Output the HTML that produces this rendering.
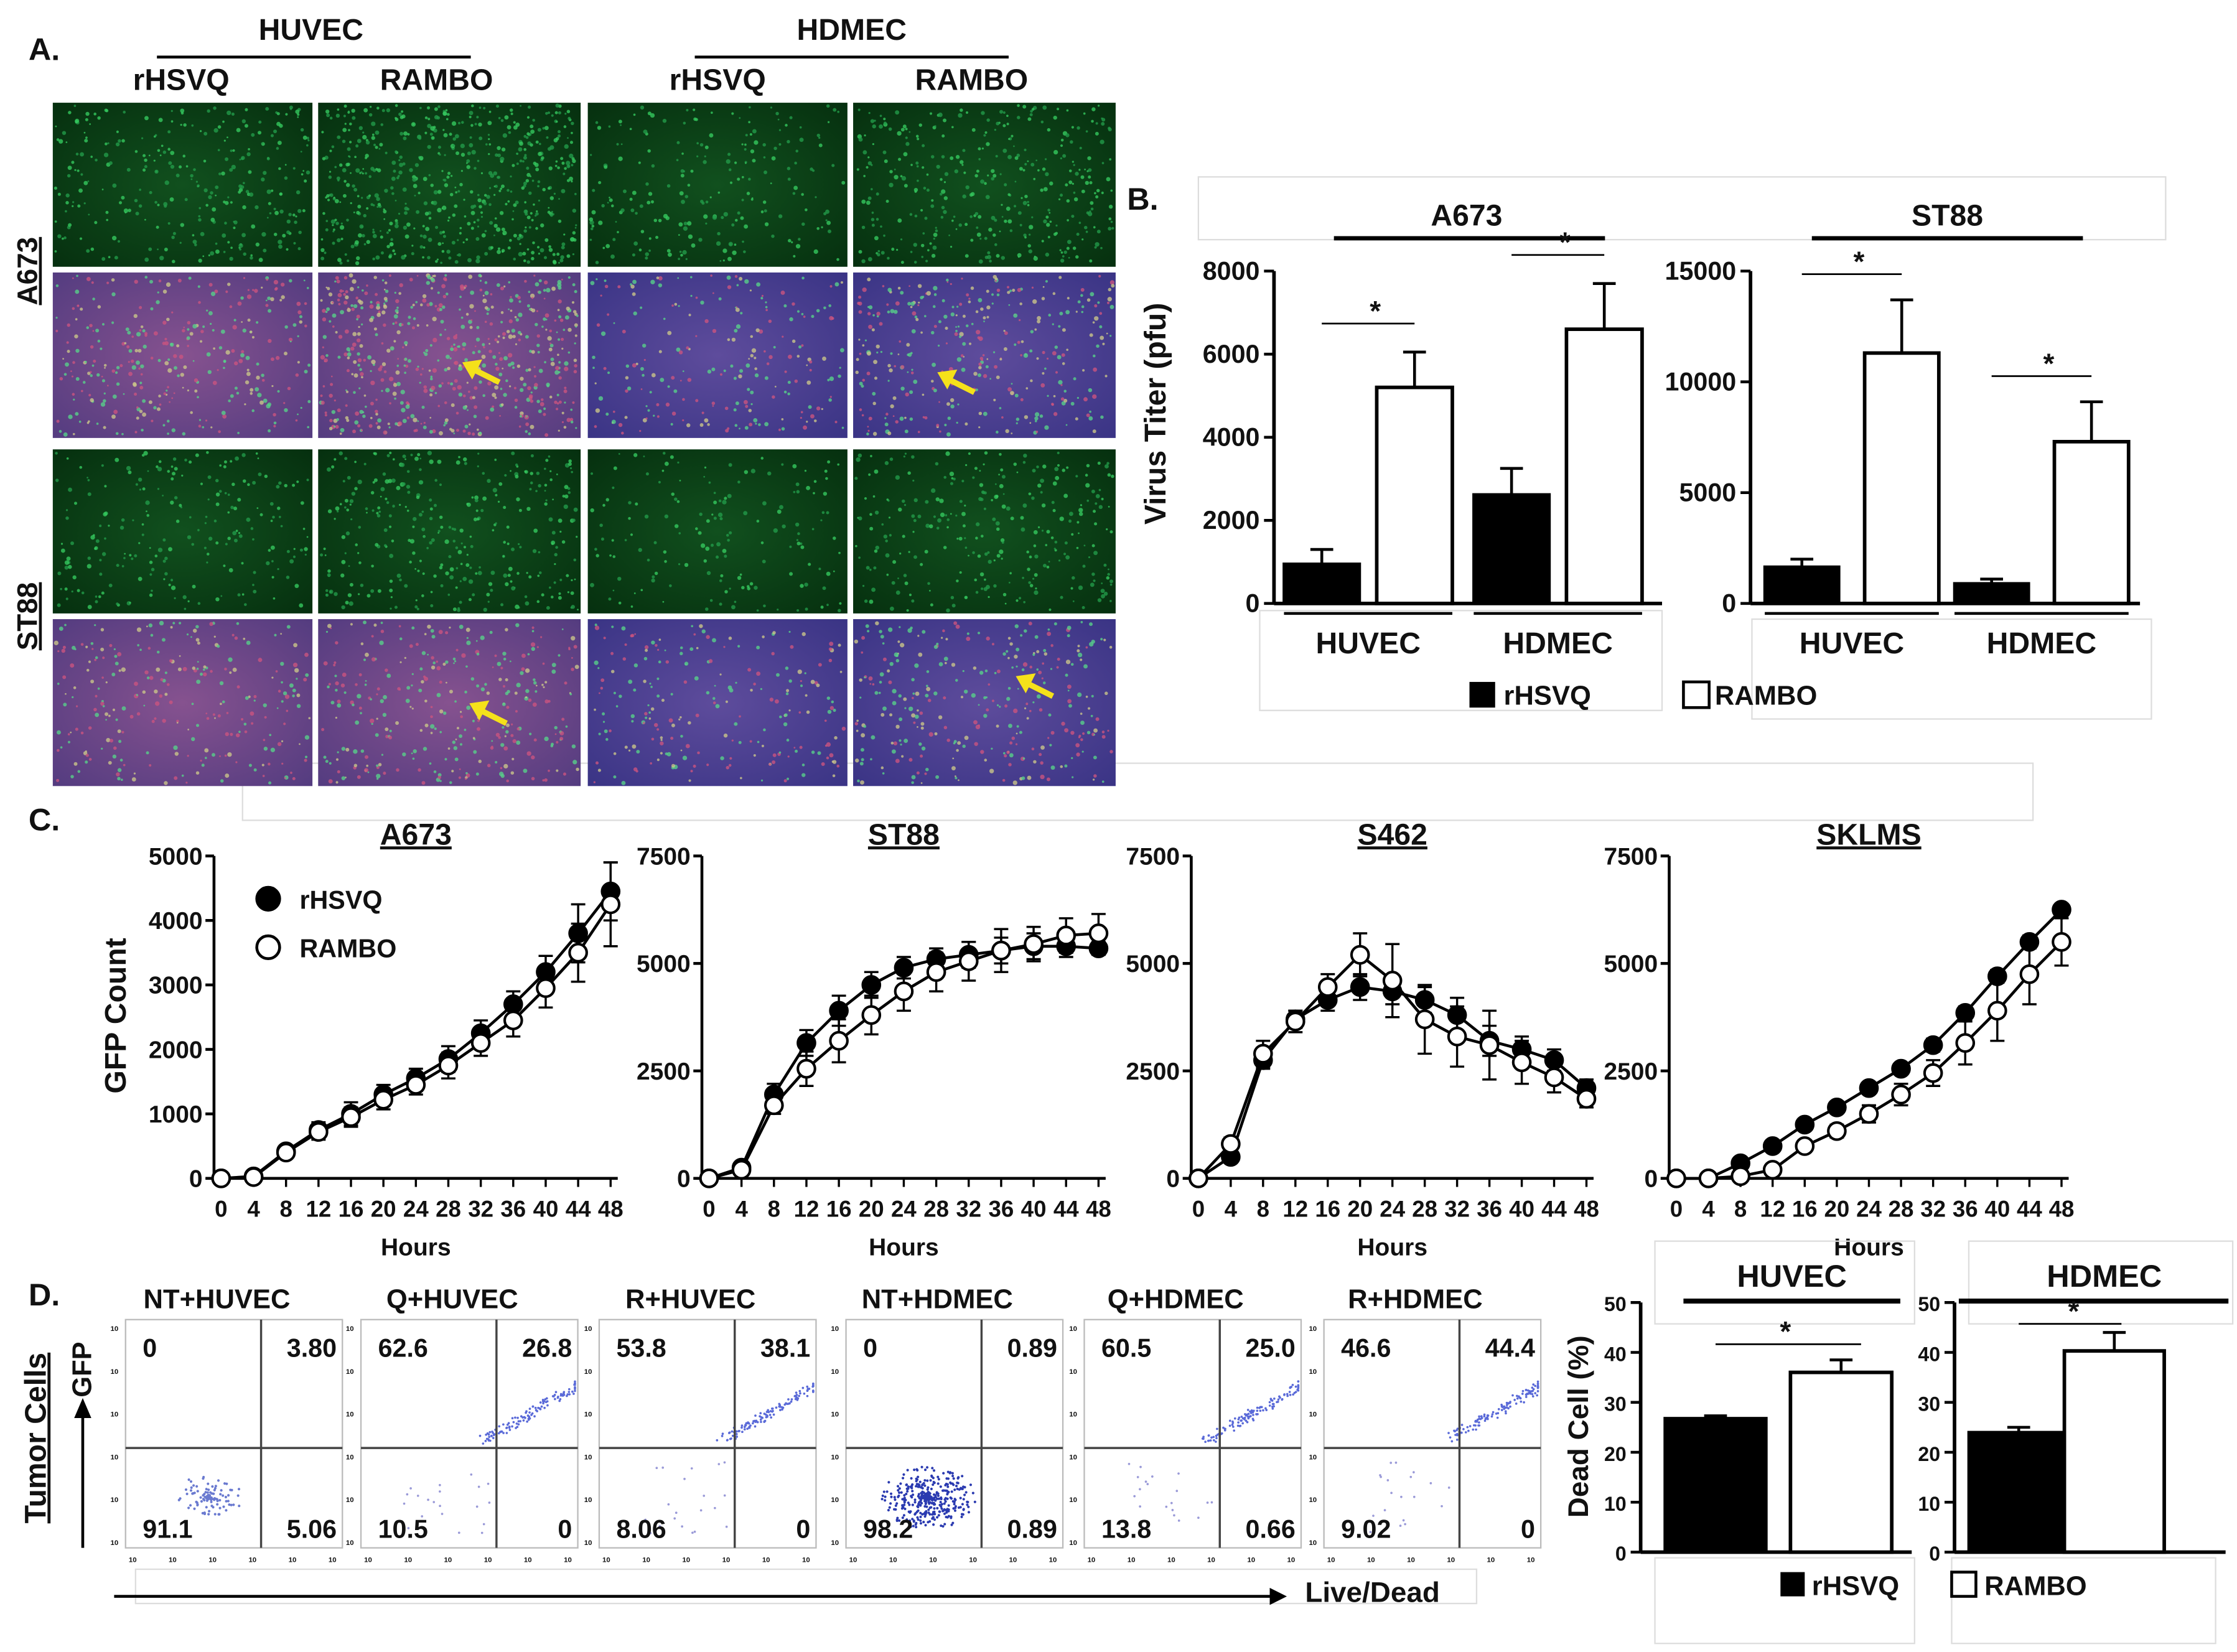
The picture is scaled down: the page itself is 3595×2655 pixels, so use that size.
<!DOCTYPE html>
<html><head><meta charset="utf-8"><style>
html,body{margin:0;padding:0;background:#fff}
svg{display:block}
text{font-family:"Liberation Sans",Arial,sans-serif;font-weight:bold;fill:#111}
</style></head><body>
<svg id="fig" width="3595" height="2655" viewBox="0 0 1568 1158" xmlns="http://www.w3.org/2000/svg">
<defs>
<radialGradient id="gGreen" cx="50%" cy="50%" r="70%"><stop offset="0" stop-color="#11501e"/><stop offset="1" stop-color="#06300f"/></radialGradient>
<radialGradient id="gPurple" cx="50%" cy="50%" r="70%"><stop offset="0" stop-color="#86528f"/><stop offset="1" stop-color="#543c80"/></radialGradient>
<radialGradient id="gBlue" cx="50%" cy="50%" r="70%"><stop offset="0" stop-color="#5e4c9c"/><stop offset="1" stop-color="#3a3485"/></radialGradient>
</defs>
</svg>
<script>
// ---- Panel B data ----
const bGroups = ['HUVEC','HDMEC'];
const bA673Q = [950, 2620];
const bA673R = [5200, 6600];
const bA673Qerr = [1300, 3250];
const bA673Rerr = [6050, 7700];
const bST88Q = [1650, 900];
const bST88R = [11300, 7300];
const bST88Qerr = [2000, 1100];
const bST88Rerr = [13700, 9100];
const bA673Ticks = [0,2000,4000,6000,8000];
const bST88Ticks = [0,5000,10000,15000];
// ---- Panel C data ----
const hours = [0,4,8,12,16,20,24,28,32,36,40,44,48];
const cA673Q = [0,30,420,750,1000,1300,1550,1850,2250,2700,3200,3800,4450];
const cA673R = [0,20,400,720,950,1220,1450,1750,2100,2450,2950,3500,4250];
const cA673Qe = [0,20,60,120,180,150,150,200,200,200,250,450,450];
const cA673Re = [0,20,60,120,150,150,150,200,200,250,300,450,650];
const cST88Q = [0,250,1950,3150,3900,4500,4900,5100,5200,5300,5400,5400,5350];
const cST88R = [0,200,1700,2550,3200,3800,4350,4800,5050,5300,5450,5650,5700];
const cST88Qe = [0,100,250,300,350,300,250,250,300,300,300,250,150];
const cST88Re = [0,100,200,400,500,450,450,450,450,500,400,400,450];
const cS462Q = [0,500,2750,3700,4150,4450,4350,4150,3800,3200,3000,2750,2100];
const cS462R = [0,800,2900,3650,4450,5200,4600,3700,3300,3100,2700,2350,1850];
const cS462Qe = [0,100,200,200,250,300,300,300,400,350,300,250,200];
const cS462Re = [0,150,300,250,300,500,850,800,700,800,500,350,200];
const cSKQ = [0,0,350,750,1250,1650,2100,2550,3100,3850,4700,5500,6250];
const cSKR = [0,0,50,200,750,1100,1500,1950,2450,3150,3900,4750,5500];
const cSKQe = [0,0,50,50,80,100,100,100,150,150,150,150,100];
const cSKRe = [0,0,50,100,100,150,200,250,300,500,700,700,550];
const cXTicks = hours;
const c5000Ticks = [0,1000,2000,3000,4000,5000];
const c7500Ticks = [0,2500,5000,7500];
// ---- Panel D data ----
const flowTitles = ['NT+HUVEC','Q+HUVEC','R+HUVEC','NT+HDMEC','Q+HDMEC','R+HDMEC'];
const flowTL = ['0','62.6','53.8','0','60.5','46.6'];
const flowTR = ['3.80','26.8','38.1','0.89','25.0','44.4'];
const flowBL = ['91.1','10.5','8.06','98.2','13.8','9.02'];
const flowBR = ['5.06','0','0','0.89','0.66','0'];
const dHUVEC = [26.8, 36.0];
const dHUVECerr = [27.3, 38.5];
const dHDMEC = [24.0, 40.3];
const dHDMECerr = [25.0, 44.0];
const dTicks = [0,10,20,30,40,50];

const svg = document.getElementById('fig');
const NS = 'http://www.w3.org/2000/svg';
function mk(tag, attrs, name, parent){
  const el = document.createElementNS(NS, tag);
  for (const k in attrs) el.setAttribute(k, attrs[k]);
  
  
  (parent||svg).appendChild(el);
  return el;
}
function txt(x,y,s,size,name,anchor,extra){
  const a = Object.assign({x:x,y:y,'font-size':size,'text-anchor':anchor||'middle'}, extra||{});
  const t = mk('text',a,name);
  t.textContent = s;
  return t;
}
function line(x1,y1,x2,y2,name,w,col){
  return mk('line',{x1:x1,y1:y1,x2:x2,y2:y2,stroke:col||'#000','stroke-width':w||2},name);
}
function rect(x,y,w,h,name,fill,stroke,sw){
  return mk('rect',{x:x,y:y,width:w,height:h,fill:fill||'none',stroke:stroke||'none','stroke-width':sw||0},name);
}
let seed = 7;
function rnd(){ seed = (seed*16807)%2147483647; return seed/2147483647; }

// background boxes first
rect(170,535,1255,40,'panel-c-title-box','none','#ddd',1);

// ================= Panel A =================
txt(20,42,'A.',22,'panel-a-label','start');
txt(218,28,'HUVEC',21,'huvec-header');
line(110,40,330,40,'huvec-header-line',2);
txt(597,28,'HDMEC',21,'hdmec-header');
line(487,40,707,40,'hdmec-header-line',2);
txt(127,63,'rHSVQ',21,'col-rhsvq-huvec');
txt(306,63,'RAMBO',21,'col-rambo-huvec');
txt(503,63,'rHSVQ',21,'col-rhsvq-hdmec');
txt(681,63,'RAMBO',21,'col-rambo-hdmec');
const ra = txt(26,190,'A673',20,'row-label-a673');
ra.setAttribute('transform','rotate(-90 26 190)');
ra.setAttribute('text-decoration','underline');
const rs = txt(26,432,'ST88',20,'row-label-st88');
rs.setAttribute('transform','rotate(-90 26 432)');
rs.setAttribute('text-decoration','underline');
const colsX = [[37,219],[223,407],[412,594],[598,782]];
const rowsY = [[72,187,'g'],[191,307,'p'],[315,430,'g'],[434,551,'p']];
const densities = [[300,600,220,360],[320,600,220,340],[220,330,160,280],[260,320,220,300]];
rowsY.forEach((r,ri)=>{
  colsX.forEach((c,ci)=>{
    const w=c[1]-c[0], h=r[1]-r[0];
    const fill = r[2]==='g' ? 'url(#gGreen)' : (ci>=2 ? 'url(#gBlue)' : 'url(#gPurple)');
    rect(c[0],r[0],w,h,'micrograph-r'+ri+'-c'+ci,fill);
    const n = densities[ri][ci];
    const g = mk('g',{},'micrograph-cells-r'+ri+'-c'+ci);
    for(let i=0;i<n;i++){
      const x=c[0]+2+rnd()*(w-4), y=r[0]+2+rnd()*(h-4);
      let col;
      if(r[2]==='g'){ col = rnd()<0.5?'#35c85e':'#229a48'; }
      else { const q=rnd(); col = q<0.4?'#58d08a':(q<0.75?'#c95480':'#c9c48a'); }
      mk('circle',{cx:x.toFixed(1),cy:y.toFixed(1),r:(0.6+rnd()*1.0).toFixed(1),fill:col,opacity:0.8},'cell-dot',g);
    }
  });
});
// yellow arrows
[[330,258],[663,265],[335,497],[718,478]].forEach((p,i)=>{
  const g=mk('g',{},'yellow-arrow-'+i);
  mk('line',{x1:p[0]+20,y1:p[1]+10,x2:p[0],y2:p[1],stroke:'#f5e11a','stroke-width':4},'arrow-shaft',g);
  mk('polygon',{points:(p[0]-6)+','+(p[1]-4)+' '+(p[0]+8)+','+(p[1]-6)+' '+(p[0]+1)+','+(p[1]+8),fill:'#f5e11a'},'arrow-head',g);
});

// ================= Panel B =================
txt(790,147,'B.',22,'panel-b-label','start');
rect(840,124,678,44,'panel-b-title-box','none','#ddd',1);
txt(1028,158,'A673',21,'b-title-a673');
line(935,167,1125,167,'b-title-a673-line',3);
txt(1365,158,'ST88',21,'b-title-st88');
line(1270,167,1460,167,'b-title-st88-line',3);
rect(883,428,282,70,'b-legend-box-left','none','#ddd',1);
rect(1228,434,280,70,'b-legend-box-right','none','#ddd',1);
const yt = txt(817,290,'Virus Titer (pfu)',21,'b-y-axis-title');
yt.setAttribute('transform','rotate(-90 817 290)');

function barChart(o){
  const ys = v => o.y0 - v/o.ymax*(o.y0-o.ytop);
  line(o.ax,o.ytop,o.ax,o.y0,o.id+'-y-axis',2.5);
  line(o.ax,o.y0,o.axEnd,o.y0,o.id+'-x-axis',2.5);
  o.ticks.forEach(t=>{
    line(o.ax-7,ys(t),o.ax,ys(t),o.id+'-y-tick',2);
    txt(o.ax-10,ys(t)+6,String(t),o.fs,o.id+'-y-tick-label','end');
  });
  o.groups.forEach((gname,i)=>{
    const xq=o.gx[i], xr=xq+o.off, w=o.bw;
    const yqe=ys(o.qerr[i]), yre=ys(o.rerr[i]);
    line(xq+w/2,yqe,xq+w/2,ys(o.q[i]),o.id+'-err-q-'+gname,2);
    line(xq+w/2-8,yqe,xq+w/2+8,yqe,o.id+'-err-cap-q-'+gname,2);
    line(xr+w/2,yre,xr+w/2,ys(o.r[i]),o.id+'-err-r-'+gname,2);
    line(xr+w/2-8,yre,xr+w/2+8,yre,o.id+'-err-cap-r-'+gname,2);
    rect(xq,ys(o.q[i]),w,o.y0-ys(o.q[i]),o.id+'-bar-rhsvq-'+gname,'#000','#000',2);
    rect(xr,ys(o.r[i]),w,o.y0-ys(o.r[i]),o.id+'-bar-rambo-'+gname,'#fff','#000',2.5);
    if(o.gl){
      line(xq,o.y0+7,xr+w,o.y0+7,o.id+'-group-bracket-'+gname,2);
      txt((xq+xr+w)/2,o.y0+35,gname,21,o.id+'-group-label-'+gname);
    }
    const sy = Math.min(yqe,yre) - o.sigGap;
    line(xq+w/2,sy,xr+w/2+o.sigExt,sy,o.id+'-sig-line-'+gname,1.2);
    txt((xq+xr+w)/2+5,sy-2,'*',20,o.id+'-sig-star-'+gname);
  });
}
barChart({id:'b-a673',ax:893,axEnd:1165,y0:423,ytop:190,ymax:8000,ticks:bA673Ticks,groups:bGroups,gx:[900,1033],off:65,bw:53,q:bA673Q,r:bA673R,qerr:bA673Qerr,rerr:bA673Rerr,fs:18,gl:true,sigGap:20,sigExt:0});
barChart({id:'b-st88',ax:1227,axEnd:1500,y0:423,ytop:190,ymax:15000,ticks:bST88Ticks,groups:bGroups,gx:[1237,1370],off:70,bw:52,q:bST88Q,r:bST88R,qerr:bST88Qerr,rerr:bST88Rerr,fs:18,gl:true,sigGap:18,sigExt:0});
rect(1030,478,18,18,'legend-swatch-rhsvq','#000');
txt(1054,494,'rHSVQ',19,'legend-label-rhsvq','start');
rect(1180,478,18,18,'legend-swatch-rambo','#fff','#000',2);
txt(1202,494,'RAMBO',19,'legend-label-rambo','start');

// ================= Panel C =================
txt(20,582,'C.',22,'panel-c-label','start');
const gy = txt(88,712,'GFP Count',21,'c-y-axis-title');
gy.setAttribute('transform','rotate(-90 88 712)');
function lineChart(o){
  const xs = h => o.x0 + h/48*(o.x48-o.x0);
  const ys = v => 826 - v/o.ymax*(826-600);
  line(o.ax,600,o.ax,826,o.id+'-y-axis',2);
  line(o.ax,826,o.x48+5,826,o.id+'-x-axis',2);
  o.yt.forEach(t=>{
    line(o.ax-6,ys(t),o.ax,ys(t),o.id+'-y-tick',2);
    txt(o.ax-8,ys(t)+6,String(t),17,o.id+'-y-tick-label','end');
  });
  cXTicks.forEach(h=>{
    line(xs(h),826,xs(h),832,o.id+'-x-tick',1.5);
    txt(xs(h),853,String(h),16,o.id+'-x-tick-label');
  });
  txt((o.x0+o.x48)/2,880,'Hours',17,o.id+'-x-axis-title');
  const tt = txt((o.x0+o.x48)/2,592,o.title,21,o.id+'-title');
  tt.setAttribute('text-decoration','underline');
  [[o.q,o.qe,'#000','rhsvq'],[o.r,o.re,'#fff','rambo']].forEach(s=>{
    hours.forEach((h,i)=>{
      if(s[1][i]>0){
        line(xs(h),ys(s[0][i]+s[1][i]),xs(h),ys(s[0][i]-s[1][i]),o.id+'-err-'+s[3],1.5);
        line(xs(h)-5,ys(s[0][i]+s[1][i]),xs(h)+5,ys(s[0][i]+s[1][i]),o.id+'-err-cap-'+s[3],1.5);
        line(xs(h)-5,ys(s[0][i]-s[1][i]),xs(h)+5,ys(s[0][i]-s[1][i]),o.id+'-err-cap-'+s[3],1.5);
      }
    });
    const pts = hours.map((h,i)=>xs(h).toFixed(1)+','+ys(s[0][i]).toFixed(1)).join(' ');
    mk('polyline',{points:pts,fill:'none',stroke:'#000','stroke-width':2},o.id+'-line-'+s[3]);
  });
  [[o.q,'#000','rhsvq'],[o.r,'#fff','rambo']].forEach(s=>{
    hours.forEach((h,i)=>{
      mk('circle',{cx:xs(h),cy:ys(s[0][i]),r:6,fill:s[1],stroke:'#000','stroke-width':1.8},o.id+'-point-'+s[2]);
    });
  });
}
lineChart({id:'c-a673',title:'A673',ax:150,x0:155,x48:428,ymax:5000,yt:c5000Ticks,q:cA673Q,r:cA673R,qe:cA673Qe,re:cA673Re});
lineChart({id:'c-st88',title:'ST88',ax:492,x0:497,x48:770,ymax:7500,yt:c7500Ticks,q:cST88Q,r:cST88R,qe:cST88Qe,re:cST88Re});
lineChart({id:'c-s462',title:'S462',ax:835,x0:840,x48:1112,ymax:7500,yt:c7500Ticks,q:cS462Q,r:cS462R,qe:cS462Qe,re:cS462Re});
lineChart({id:'c-sklms',title:'SKLMS',ax:1170,x0:1175,x48:1445,ymax:7500,yt:c7500Ticks,q:cSKQ,r:cSKR,qe:cSKQe,re:cSKRe});
mk('circle',{cx:188,cy:630,r:8,fill:'#000',stroke:'#000','stroke-width':2},'c-legend-marker-rhsvq');
txt(210,637,'rHSVQ',18,'c-legend-label-rhsvq','start');
mk('circle',{cx:188,cy:664,r:8,fill:'#fff',stroke:'#000','stroke-width':2},'c-legend-marker-rambo');
txt(210,671,'RAMBO',18,'c-legend-label-rambo','start');

// ================= Panel D =================
txt(20,915,'D.',22,'panel-d-label','start');
const tc = txt(32,1008,'Tumor Cells',21,'d-tumor-cells-label');
tc.setAttribute('transform','rotate(-90 32 1008)');
tc.setAttribute('text-decoration','underline');
const gf = txt(64,960,'GFP',19,'d-gfp-label');
gf.setAttribute('transform','rotate(-90 64 960)');
line(58,1085,58,992,'d-gfp-arrow-shaft',2);
mk('polygon',{points:'52,994 64,994 58,980',fill:'#000'},'d-gfp-arrow-head');
rect(95,1100,940,24,'d-x-title-box','none','#ddd',1);
line(80,1119,892,1119,'d-live-dead-arrow-shaft',2);
mk('polygon',{points:'890,1113 890,1125 902,1119',fill:'#000'},'d-live-dead-arrow-head');
txt(962,1123,'Live/Dead',20,'d-live-dead-label');
const flowX = [88,253,420,593,760,928];
flowX.forEach((x,i)=>{
  const w=152, y=925, h=160, vx=x+95, hy=y+90;
  txt(x+w/2-12,917,flowTitles[i],19,'flow-title-'+i);
  for(let k=0;k<6;k++){ txt(x-5,y+8+k*30,'10',5,'flow-axis-tick','end',{fill:'#999'}); }
  for(let k=0;k<6;k++){ txt(x+5+k*28,y+h+10,'10',5,'flow-axis-tick','middle',{fill:'#999'}); }
  rect(x,y,w,h,'flow-plot-'+i,'#fff','#bbb',1);
  const g=mk('g',{},'flow-events-'+i);
  if(i===0||i===3){
    const n = i===3?380:110;
    for(let k=0;k<n;k++){
      const r=rnd()*(i===3?22:16), a=rnd()*6.28;
      mk('circle',{cx:(x+58+Math.cos(a)*r*1.5).toFixed(1),cy:(y+125+Math.sin(a)*r).toFixed(1),r:0.9,fill:i===3?'#2a3ab0':'#6a7ad0'},'flow-event',g);
    }
  } else {
    for(let k=0;k<120;k++){
      const t=rnd();
      const px = x+85+t*70 + (rnd()-0.5)*8, py = y+85 - t*40 + (rnd()-0.5)*6;
      mk('circle',{cx:Math.min(px,x+w-2).toFixed(1),cy:py.toFixed(1),r:0.8,fill:'#5a6ad8'},'flow-event',g);
    }
    for(let k=0;k<20;k++){
      mk('circle',{cx:(x+30+rnd()*60).toFixed(1),cy:(y+100+rnd()*50).toFixed(1),r:0.8,fill:'#9a9ad8'},'flow-event',g);
    }
  }
  line(vx,y,vx,y+h,'flow-quadrant-v-'+i,1.5,'#444');
  line(x,hy,x+w,hy,'flow-quadrant-h-'+i,1.5,'#444');
  txt(x+12,y+26,flowTL[i],18,'flow-q-tl-'+i,'start');
  txt(x+w-4,y+26,flowTR[i],18,'flow-q-tr-'+i,'end');
  txt(x+12,y+153,flowBL[i],18,'flow-q-bl-'+i,'start');
  txt(x+w-4,y+153,flowBR[i],18,'flow-q-br-'+i,'end');
});
const dy = txt(1113,1000,'Dead Cell (%)',20,'d-y-axis-title');
dy.setAttribute('transform','rotate(-90 1113 1000)');
rect(1160,870,182,58,'d-huvec-title-box','none','#ddd',1);
rect(1380,870,185,58,'d-hdmec-title-box','none','#ddd',1);
rect(1160,1092,182,60,'d-legend-box-left','none','#ddd',1);
rect(1368,1092,185,60,'d-legend-box-right','none','#ddd',1);
txt(1256,902,'HUVEC',22,'d-title-huvec');
line(1180,912,1332,912,'d-title-huvec-line',3.5);
txt(1475,902,'HDMEC',22,'d-title-hdmec');
line(1373,912,1562,912,'d-title-hdmec-line',3.5);
barChart({id:'d-huvec',ax:1150,axEnd:1340,y0:1088,ytop:913,ymax:50,ticks:dTicks,groups:['HUVEC'],gx:[1167],off:88,bw:71,q:[dHUVEC[0]],r:[dHUVEC[1]],qerr:[dHUVECerr[0]],rerr:[dHUVECerr[1]],fs:14,gl:false,sigGap:11,sigExt:14});
barChart({id:'d-hdmec',ax:1370,axEnd:1560,y0:1088,ytop:913,ymax:50,ticks:dTicks,groups:['HDMEC'],gx:[1380],off:67,bw:70,q:[dHDMEC[0]],r:[dHDMEC[1]],qerr:[dHDMECerr[0]],rerr:[dHDMECerr[1]],fs:14,gl:false,sigGap:6,sigExt:5});
rect(1248,1102,17,17,'d-legend-swatch-rhsvq','#000');
txt(1270,1118,'rHSVQ',19,'d-legend-label-rhsvq','start');
rect(1368,1102,17,17,'d-legend-swatch-rambo','#fff','#000',2);
txt(1391,1118,'RAMBO',19,'d-legend-label-rambo','start');
</script>
</body></html>
